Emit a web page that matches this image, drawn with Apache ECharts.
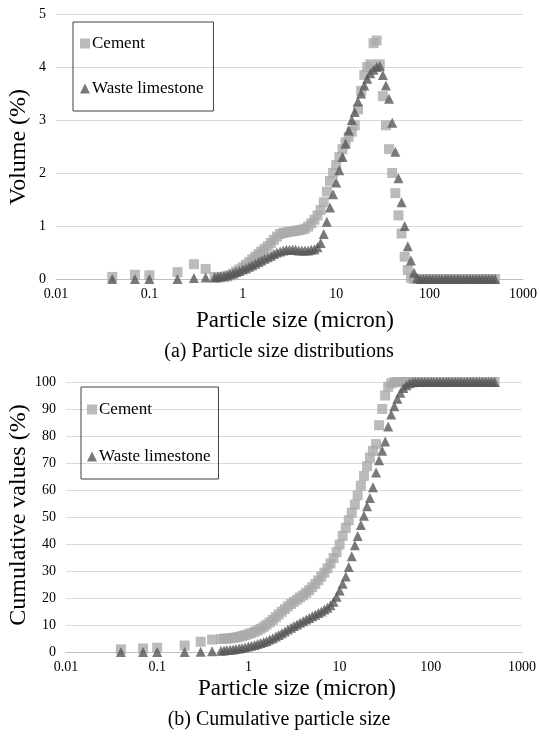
<!DOCTYPE html>
<html>
<head>
<meta charset="utf-8">
<script src="https://cdn.jsdelivr.net/npm/echarts@6/dist/echarts.min.js"></script>
<style>
  html, body { margin: 0; padding: 0; background: #fff; }
  #chart { width: 540px; height: 736px; }
</style>
</head>
<body>
<div id="chart"></div>
<script>
// particle size classes (micron)
const sizes = [
  0.04, 0.07, 0.1, 0.2, 0.3, 0.4,
  0.5, 0.54, 0.58, 0.63, 0.68, 0.73, 0.79, 0.85, 0.92,
  1.0, 1.08, 1.17, 1.26, 1.36, 1.47, 1.58, 1.71, 1.85,
  2.0, 2.15, 2.32, 2.51, 2.71, 2.93, 3.16, 3.41, 3.68, 3.98,
  4.3, 4.64, 5.01, 5.41, 5.84, 6.31, 6.81, 7.36, 7.94, 8.58, 9.26,
  10, 10.8, 11.7, 12.6, 13.6, 14.7, 15.8, 17.1, 18.5,
  20, 21.5, 23.2, 25.1, 27.1, 29.3, 31.6, 34.1, 36.8, 39.8,
  43, 46.4, 50.1, 54.1, 58.4, 63.1, 68.1, 73.6, 79.4, 85.8, 92.6,
  100, 108, 117, 126, 136, 147, 158, 171, 185,
  200, 215, 232, 251, 271, 293, 316, 341, 368, 398,
  430, 464, 501
];

// (a) volume %
const volCement = [
  0.04, 0.08, 0.07, 0.13, 0.28, 0.19,
  0.04, 0.03, 0.03, 0.04, 0.05, 0.07, 0.1, 0.14, 0.18,
  0.22, 0.27, 0.32, 0.37, 0.42, 0.47, 0.52, 0.57, 0.62,
  0.68, 0.74, 0.8, 0.85, 0.87, 0.88, 0.89, 0.9, 0.91, 0.92,
  0.93, 0.95, 0.99, 1.05, 1.12, 1.2, 1.3, 1.45, 1.65, 1.85, 2.0,
  2.15, 2.3, 2.45, 2.58, 2.68, 2.78, 2.9, 3.2, 3.55,
  3.85, 4.0, 4.05, 4.45, 4.5, 4.05, 3.45, 2.9, 2.45, 2.0,
  1.62, 1.2, 0.86, 0.42, 0.17, 0.02, 0, 0, 0, 0, 0,
  0, 0, 0, 0, 0, 0, 0, 0, 0,
  0, 0, 0, 0, 0, 0, 0, 0, 0, 0,
  0, 0, 0
];
const volWaste = [
  0, 0, 0, 0, 0.02, 0.03,
  0.03, 0.04, 0.05, 0.06, 0.07, 0.09, 0.11, 0.13, 0.15,
  0.18, 0.2, 0.23, 0.26, 0.29, 0.32, 0.35, 0.38, 0.41,
  0.44, 0.47, 0.5, 0.52, 0.54, 0.55, 0.55, 0.55, 0.55, 0.54,
  0.54, 0.54, 0.54, 0.55, 0.56, 0.6, 0.68, 0.85, 1.08, 1.35, 1.6,
  1.82, 2.05, 2.3, 2.55, 2.8, 3.0, 3.15, 3.35, 3.5,
  3.65, 3.78, 3.88, 3.95, 4.0, 4.02, 3.85, 3.65, 3.4, 2.95,
  2.4, 1.9, 1.45, 1.0, 0.62, 0.35, 0.12, 0.02, 0, 0, 0,
  0, 0, 0, 0, 0, 0, 0, 0, 0,
  0, 0, 0, 0, 0, 0, 0, 0, 0, 0,
  0, 0, 0
];

// (b) cumulative %
const cumCement = [
  1.0, 1.3, 1.6, 2.4, 3.8, 4.6,
  4.8, 4.9, 5.0, 5.1, 5.2, 5.4, 5.6, 5.9, 6.2,
  6.6, 7.0, 7.5, 8.0, 8.6, 9.3, 10.1, 11.0, 11.9,
  12.9, 13.9, 14.9, 15.9, 16.9, 17.8, 18.6, 19.4, 20.2, 21.0,
  21.9, 22.9, 24.0, 25.2, 26.5, 27.9, 29.4, 31.0, 32.8, 34.8, 37.0,
  39.8, 43.0, 46.0, 48.8, 51.6, 54.6, 58.0, 61.6, 65.2,
  68.8, 72.0, 74.5, 77.0, 84.0, 90.0, 95.0, 98.2, 99.5, 99.9,
  100, 100, 100, 100, 100, 100, 100, 100, 100, 100, 100,
  100, 100, 100, 100, 100, 100, 100, 100, 100,
  100, 100, 100, 100, 100, 100, 100, 100, 100, 100,
  100, 100, 100
];
const cumWaste = [
  0, 0, 0, 0, 0.1, 0.3,
  0.5, 0.6, 0.7, 0.8, 0.95, 1.1, 1.3, 1.5, 1.75,
  2.0, 2.3, 2.6, 3.0, 3.3, 3.7, 4.1, 4.6, 5.1,
  5.7, 6.3, 6.9, 7.6, 8.3, 9.0, 9.6, 10.2, 10.8, 11.4,
  12.0, 12.6, 13.2, 13.8, 14.4, 15.0, 15.7, 16.4, 17.3, 18.6, 20.5,
  22.8, 25.3, 28.0, 31.5, 35.5, 39.5, 43.0, 47.0, 50.5,
  54.0, 57.0, 61.0, 66.5, 71.0, 74.5, 78.0, 83.5, 88.0, 91.0,
  93.8, 96.0, 97.8, 98.8, 99.5, 99.9, 100, 100, 100, 100, 100,
  100, 100, 100, 100, 100, 100, 100, 100, 100,
  100, 100, 100, 100, 100, 100, 100, 100, 100, 100,
  100, 100, 100
];

const serif = '"Liberation Serif", "DejaVu Serif", serif';
const cementColor = '#aaaaaa';
const wasteColor = '#575757';

const chart = echarts.init(document.getElementById('chart'));

function pairs(ys) {
  return sizes.map((s, i) => [s, ys[i]]);
}

function xAxisOf(gridIndex) {
  return {
    type: 'log',
    logBase: 10,
    gridIndex: gridIndex,
    min: 0.01,
    max: 1000,
    axisLine: { lineStyle: { color: '#bfbfbf', width: 1 } },
    axisTick: { show: false },
    splitLine: { show: false },
    axisLabel: {
      margin: 8,
      color: '#000',
      fontFamily: serif,
      fontSize: 14,
      formatter: v => String(+Number(v).toPrecision(3))
    }
  };
}

function yAxisOf(gridIndex, max, interval) {
  return {
    type: 'value',
    gridIndex: gridIndex,
    min: 0,
    max: max,
    interval: interval,
    axisLine: { show: false },
    axisTick: { show: false },
    splitLine: { lineStyle: { color: '#d9d9d9', width: 1 } },
    axisLabel: { margin: 10, color: '#000', fontFamily: serif, fontSize: 14 }
  };
}

function legendOf(left, top, padding, gap) {
  return {
    left: left,
    top: top,
    orient: 'vertical',
    borderColor: '#404040',
    borderWidth: 1,
    padding: padding,
    itemWidth: 10,
    itemHeight: 10,
    itemGap: gap,
    selectedMode: false,
    textStyle: { color: '#000', fontFamily: serif, fontSize: 17, padding: [0, 0, 0, -3] },
    data: [
      { name: 'Cement', icon: 'rect' },
      { name: 'Waste limestone', icon: 'triangle' }
    ]
  };
}

function label(text, x, y, size, rotate) {
  return {
    type: 'text',
    x: x,
    y: y,
    rotation: rotate ? Math.PI / 2 : 0,
    style: {
      text: text,
      fill: '#000',
      font: size + 'px ' + serif,
      textAlign: 'center',
      textVerticalAlign: 'middle'
    }
  };
}

const option = {
  animation: false,
  backgroundColor: '#fff',
  grid: [
    { left: 56, right: 17, top: 14, height: 265 },
    { left: 66, right: 18, top: 382, height: 270 }
  ],
  xAxis: [xAxisOf(0), xAxisOf(1)],
  yAxis: [yAxisOf(0, 5, 1), yAxisOf(1, 100, 10)],
  legend: [
    legendOf(73, 22, [13, 10, 14, 7], 28),
    legendOf(81, 387, [14, 8, 14, 6], 30)
  ],
  graphic: [
    label('Volume (%)', 19, 147, 24, true),
    label('Particle size (micron)', 295, 321, 23),
    label('(a) Particle size distributions', 279, 352, 20),
    label('Cumulative values (%)', 19, 515, 24, true),
    label('Particle size (micron)', 297, 689, 23),
    label('(b) Cumulative particle size', 279, 720, 20)
  ],
  series: [
    {
      name: 'Cement', type: 'scatter', xAxisIndex: 0, yAxisIndex: 0,
      symbol: 'rect', symbolSize: 10, itemStyle: { color: cementColor },
      data: pairs(volCement)
    },
    {
      name: 'Waste limestone', type: 'scatter', xAxisIndex: 0, yAxisIndex: 0,
      symbol: 'triangle', symbolSize: 10, itemStyle: { color: wasteColor },
      data: pairs(volWaste)
    },
    {
      name: 'Cement', type: 'scatter', xAxisIndex: 1, yAxisIndex: 1,
      symbol: 'rect', symbolSize: 10, itemStyle: { color: cementColor },
      data: pairs(cumCement)
    },
    {
      name: 'Waste limestone', type: 'scatter', xAxisIndex: 1, yAxisIndex: 1,
      symbol: 'triangle', symbolSize: 10, itemStyle: { color: wasteColor },
      data: pairs(cumWaste)
    }
  ]
};

chart.setOption(option);
</script>
</body>
</html>
